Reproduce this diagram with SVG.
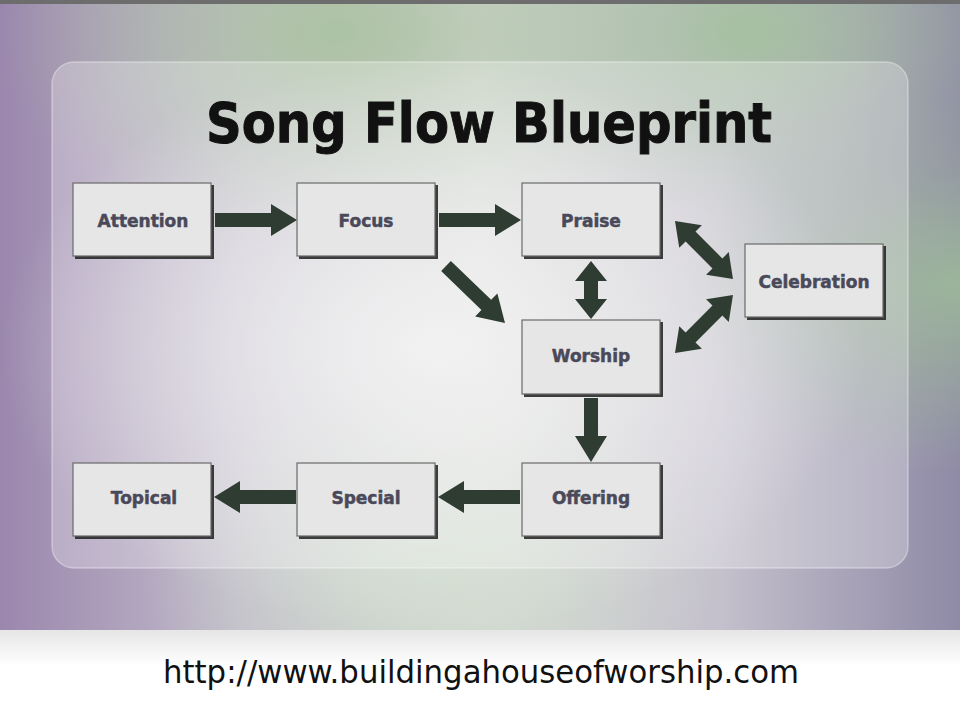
<svg xmlns="http://www.w3.org/2000/svg" width="960" height="720" viewBox="0 0 960 720">
<style>
.box{fill:#e6e6e6;stroke:#6a6a6a;stroke-width:1.2}
.sh{fill:#1e1e1e;opacity:0.85}
.lbl{font-family:"DejaVu Sans",sans-serif;font-weight:bold;font-size:17px;fill:#4a4959;stroke:#4a4959;stroke-width:0.5;text-anchor:middle}
.arr{fill:#2f3c32}
</style>
<defs>
<linearGradient id="bgH" x1="0" y1="0" x2="1" y2="0">
<stop offset="0" stop-color="#9b87ad"/>
<stop offset="0.25" stop-color="#c2bccb"/>
<stop offset="0.5" stop-color="#d6d8d6"/>
<stop offset="0.75" stop-color="#c4c0cc"/>
<stop offset="1" stop-color="#8f8aa6"/>
</linearGradient>
<radialGradient id="g1" cx="0.35" cy="0.05" r="0.35">
<stop offset="0" stop-color="#a9c29f" stop-opacity="0.9"/>
<stop offset="1" stop-color="#a9c29f" stop-opacity="0"/>
</radialGradient>
<radialGradient id="g2" cx="0.78" cy="0.05" r="0.3">
<stop offset="0" stop-color="#a3c09d" stop-opacity="0.9"/>
<stop offset="1" stop-color="#a3c09d" stop-opacity="0"/>
</radialGradient>
<radialGradient id="g3" cx="1" cy="0.45" r="0.3">
<stop offset="0" stop-color="#9fbf98" stop-opacity="0.8"/>
<stop offset="1" stop-color="#9fbf98" stop-opacity="0"/>
</radialGradient>
<radialGradient id="g4" cx="0.45" cy="0.9" r="0.3">
<stop offset="0" stop-color="#cfdccc" stop-opacity="0.9"/>
<stop offset="1" stop-color="#cfdccc" stop-opacity="0"/>
</radialGradient>
<radialGradient id="gc" cx="0.45" cy="0.55" r="0.45">
<stop offset="0" stop-color="#f0f0f0" stop-opacity="0.9"/>
<stop offset="1" stop-color="#f0f0f0" stop-opacity="0"/>
</radialGradient>
<linearGradient id="wb" x1="0" y1="0" x2="0" y2="1">
<stop offset="0" stop-color="#e6e6e6"/>
<stop offset="0.4" stop-color="#ffffff"/>
<stop offset="1" stop-color="#ffffff"/>
</linearGradient>
</defs>
<g id="background">
<rect x="0" y="0" width="960" height="632" fill="url(#bgH)"/>
<rect x="0" y="0" width="960" height="632" fill="url(#g1)"/>
<rect x="0" y="0" width="960" height="632" fill="url(#g2)"/>
<rect x="0" y="0" width="960" height="632" fill="url(#g3)"/>
<rect x="0" y="0" width="960" height="632" fill="url(#g4)"/>
<rect x="0" y="0" width="960" height="632" fill="url(#gc)"/>
<rect x="0" y="0" width="960" height="4" fill="#6d6d6d"/>
<rect x="0" y="630" width="960" height="90" fill="url(#wb)"/>
</g>
<g id="panel">
<rect x="52" y="62" width="856" height="506" rx="22" fill="#ffffff" fill-opacity="0.25" stroke="#ffffff" stroke-opacity="0.35" stroke-width="1.5"/>
</g>
<g id="title">
<text x="489" y="142" font-family="'DejaVu Sans',sans-serif" font-weight="bold" font-size="55" fill="#111111" stroke="#111111" stroke-width="1" text-anchor="middle" textLength="566" lengthAdjust="spacingAndGlyphs">Song Flow Blueprint</text>
</g>
<g id="connectors">
<polygon class="arr" points="215,213 271,213 271,204 297,220 271,236 271,227 215,227"/>
<polygon class="arr" points="439,213 495,213 495,204 521,220 495,236 495,227 439,227"/>
<polygon class="arr" points="520,490 464,490 464,481 438,497 464,513 464,504 520,504"/>
<polygon class="arr" points="296,490 240,490 240,481 214,497 240,513 240,504 296,504"/>
<polygon class="arr" points="584,398 598,398 598,436 607,436 591,462 575,436 584,436"/>
<polygon class="arr" points="591,261 607,281 598,281 598,299 607,299 591,319 575,299 584,299 584,281 575,281"/>
<polygon class="arr" transform="translate(446,266) rotate(44)" points="0,-7 56,-7 56,-16 82,0 56,16 56,7 0,7"/>
<polygon class="arr" transform="translate(675,221) rotate(45)" points="0,0 22,-16 22,-7 60,-7 60,-16 82,0 60,16 60,7 22,7 22,16"/>
<polygon class="arr" transform="translate(675,353) rotate(-45)" points="0,0 22,-16 22,-7 60,-7 60,-16 82,0 60,16 60,7 22,7 22,16"/>
</g>
<g id="node-attention">
<rect class="sh" x="75" y="185" width="139" height="74"/>
<rect class="box" x="73" y="183" width="138" height="73"/>
<text class="lbl" x="143" y="227">Attention</text>
</g>
<g id="node-focus">
<rect class="sh" x="299" y="185" width="139" height="74"/>
<rect class="box" x="297" y="183" width="138" height="73"/>
<text class="lbl" x="366" y="227">Focus</text>
</g>
<g id="node-praise">
<rect class="sh" x="524" y="185" width="139" height="74"/>
<rect class="box" x="522" y="183" width="138" height="73"/>
<text class="lbl" x="591" y="227">Praise</text>
</g>
<g id="node-celebration">
<rect class="sh" x="747" y="246" width="139" height="74"/>
<rect class="box" x="745" y="244" width="138" height="73"/>
<text class="lbl" x="814" y="288">Celebration</text>
</g>
<g id="node-worship">
<rect class="sh" x="524" y="322" width="139" height="75"/>
<rect class="box" x="522" y="320" width="138" height="74"/>
<text class="lbl" x="591" y="362">Worship</text>
</g>
<g id="node-offering">
<rect class="sh" x="524" y="465" width="139" height="74"/>
<rect class="box" x="522" y="463" width="138" height="73"/>
<text class="lbl" x="591" y="504">Offering</text>
</g>
<g id="node-special">
<rect class="sh" x="299" y="465" width="139" height="74"/>
<rect class="box" x="297" y="463" width="138" height="73"/>
<text class="lbl" x="366" y="504">Special</text>
</g>
<g id="node-topical">
<rect class="sh" x="75" y="465" width="139" height="74"/>
<rect class="box" x="73" y="463" width="138" height="73"/>
<text class="lbl" x="144" y="504">Topical</text>
</g>
<g id="url">
<text x="481" y="683" font-family="'DejaVu Sans Condensed','DejaVu Sans',sans-serif" font-size="32" fill="#111111" text-anchor="middle" textLength="636" lengthAdjust="spacingAndGlyphs">http://www.buildingahouseofworship.com</text>
</g>
</svg>
